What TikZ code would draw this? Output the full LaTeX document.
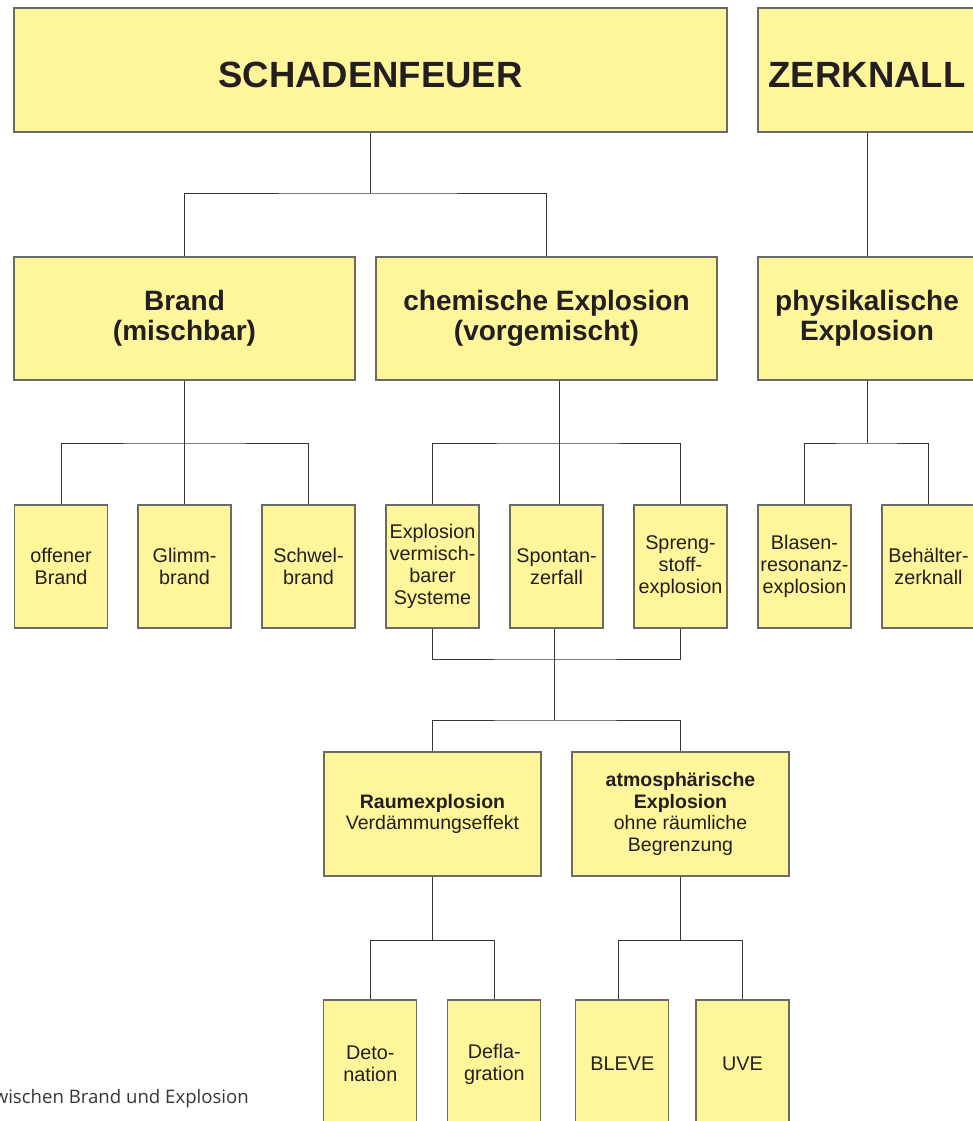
\documentclass[tikz,border=0pt]{standalone}
\usepackage{fontspec}
\setmainfont{Liberation Sans}
\newfontfamily\captionfont{Open Sans}
\usetikzlibrary{calc}
\definecolor{boxfill}{HTML}{FFF59A}
\definecolor{boxline}{HTML}{6A6A6A}
\definecolor{ink}{HTML}{231F20}
\begin{document}
\begin{tikzpicture}[x=1pt,y=-1pt,
  box/.style={draw=boxline, line width=1.3pt, fill=boxfill, text=ink,
              inner sep=0pt, align=center},
  titlebox/.style={box, minimum height=124pt, text height=36pt, text depth=0pt,
                   font=\fontsize{36.5}{40}\selectfont\bfseries},
  groupbox/.style={box, minimum height=123pt,
                   font=\fontsize{28}{29.5}\selectfont\bfseries},
  leafbox/.style={box, minimum width=93pt, minimum height=123pt,
                  font=\fontsize{19.8}{22}\selectfont},
  kindbox/.style={box, minimum width=217pt, minimum height=124pt,
                  font=\fontsize{19.5}{21.5}\selectfont},
  endbox/.style={box, minimum width=93pt, minimum height=128pt,
                 font=\fontsize{19.8}{22}\selectfont},
  wire/.style={draw=ink!90, line width=1pt}
]
\useasboundingbox (0,0) rectangle (973,1121);
\clip (0,0) rectangle (973,1121);

% top level
\node[titlebox, minimum width=713pt] (sf) at (370.5,70) {SCHADENFEUER};
\node[titlebox, minimum width=218pt] (zk) at (867,70) {ZERKNALL};

% second level
\node[groupbox, minimum width=341pt] (br) at (184.5,318.5) {Brand\\(mischbar)};
\node[groupbox, minimum width=341pt] (ce) at (546.5,318.5) {chemische Explosion\\(vorgemischt)};
\node[groupbox, minimum width=218pt] (pe) at (867,318.5) {physikalische\\Explosion};

% third level
\node[leafbox] (ob) at (61,566.5)    {offener\\Brand};
\node[leafbox] (gb) at (184.5,566.5) {Glimm-\\brand};
\node[leafbox] (sb) at (308.5,566.5) {Schwel-\\brand};
\node[leafbox] (ev) at (432.5,566.5) {Explosion\\vermisch-\\barer\\Systeme};
\node[leafbox] (sz) at (556.5,566.5) {Spontan-\\zerfall};
\node[leafbox] (se) at (680.5,566.5) {Spreng-\\stoff-\\explosion};
\node[leafbox] (bl) at (804.5,566.5) {Blasen-\\resonanz-\\explosion};
\node[leafbox] (bz) at (928.5,566.5) {Behälter-\\zerknall};

% kinds of chemical explosion
\node[kindbox] (re) at (432.5,814) {\textbf{Raumexplosion}\\Verdämmungseffekt};
\node[kindbox] (ae) at (680.5,814) {\textbf{atmosphärische}\\\textbf{Explosion}\\ohne räumliche\\Begrenzung};

% bottom row
\node[endbox] (dt) at (370.3,1064) {Deto-\\nation};
\node[endbox] (df) at (494.3,1064) {Defla-\\gration};
\node[endbox] (bv) at (622.3,1064) {BLEVE};
\node[endbox] (uv) at (742.5,1064) {UVE};

% connectors
\coordinate (j1) at (370.5,193);
\draw[wire] (sf.south) -- (j1);
\draw[wire] (br.north) |- (j1) -| (ce.north);
\draw[wire] (zk.south) -- (pe.north);

\coordinate (j2) at (184.5,443);
\draw[wire] (br.south) -- (j2);
\draw[wire] (ob.north) |- (j2) -| (sb.north);
\draw[wire] (j2) -- (gb.north);

\coordinate (j3) at (559,443);
\draw[wire] ($(ce.south)+(12.5,0)$) -- (j3);
\draw[wire] (ev.north) |- (j3) -| (se.north);
\draw[wire] (j3) -- (j3 |- sz.north);

\coordinate (j8) at (867,443);
\draw[wire] (pe.south) -- (j8);
\draw[wire] (bl.north) |- (j8) -| (bz.north);

\coordinate (j4) at (554,659);
\draw[wire] (ev.south) |- (j4) -| (se.south);
\draw[wire] (j4 |- sz.south) -- (j4);
\coordinate (j5) at (554,720);
\draw[wire] (j4) -- (j5);
\draw[wire] (re.north) |- (j5) -| (ae.north);

\coordinate (j6) at (432.5,940);
\draw[wire] (re.south) -- (j6);
\draw[wire] (dt.north) |- (j6) -| (df.north);

\coordinate (j7) at (680.5,940);
\draw[wire] (ae.south) -- (j7);
\draw[wire] ($(bv.north)+(-4,0)$) |- (j7) -| (uv.north);

% caption line
\node[anchor=base east, inner sep=0pt, text=ink!90,
      font=\captionfont\fontsize{18.6}{21}\selectfont] (cap) at (249,1103)
  {wischen Brand und Explosion};
\end{tikzpicture}
\end{document}
